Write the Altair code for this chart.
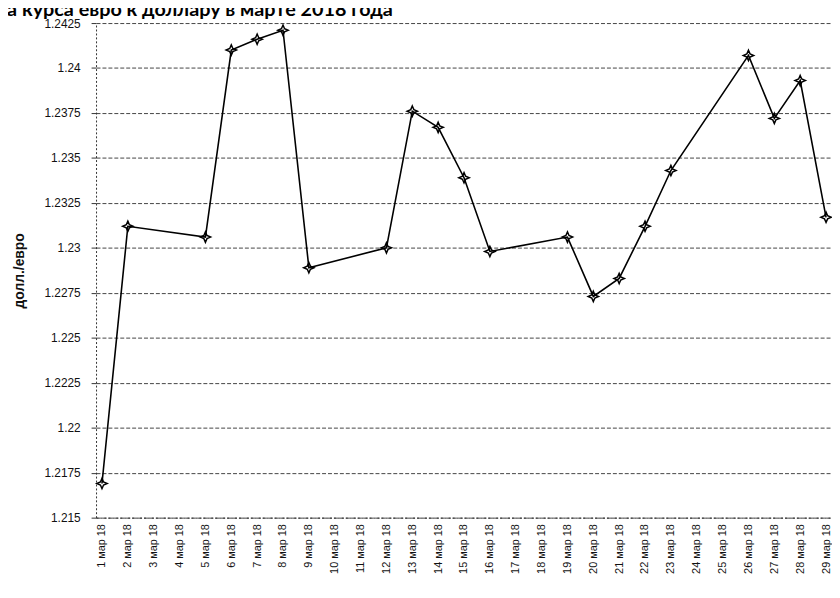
import altair as alt
import pandas as pd

# Category labels on the x axis (every calendar day shown)
day_labels = [
    "1 мар 18", "2 мар 18", "3 мар 18", "4 мар 18", "5 мар 18", "6 мар 18",
    "7 мар 18", "8 мар 18", "9 мар 18", "10 мар 18", "11 мар 18", "12 мар 18",
    "13 мар 18", "14 мар 18", "15 мар 18", "16 мар 18", "17 мар 18", "18 мар 18",
    "19 мар 18", "20 мар 18", "21 мар 18", "22 мар 18", "23 мар 18", "24 мар 18",
    "25 мар 18", "26 мар 18", "27 мар 18", "28 мар 18", "29 мар 18",
]

# Trading days with a quote
quote_days = [
    "1 мар 18", "2 мар 18", "5 мар 18", "6 мар 18", "7 мар 18", "8 мар 18",
    "9 мар 18", "12 мар 18", "13 мар 18", "14 мар 18", "15 мар 18", "16 мар 18",
    "19 мар 18", "20 мар 18", "21 мар 18", "22 мар 18", "23 мар 18",
    "26 мар 18", "27 мар 18", "28 мар 18", "29 мар 18",
]
rates = [
    1.2169, 1.2312, 1.2306, 1.2410, 1.2416, 1.2421,
    1.2289, 1.2300, 1.2376, 1.2367, 1.2339, 1.2298,
    1.2306, 1.2273, 1.2283, 1.2312, 1.2343,
    1.2407, 1.2372, 1.2393, 1.2317,
]

y_ticks = [1.215, 1.2175, 1.22, 1.2225, 1.225, 1.2275, 1.23, 1.2325,
           1.235, 1.2375, 1.24, 1.2425]

title_text = "Динамика курса евро к доллару в марте 2018 года"
y_title = "долл./евро"

df = pd.DataFrame({"day": quote_days, "rate": rates})
tdf = pd.DataFrame({"t": [title_text]})

x_enc = alt.X(
    "day:O",
    sort=day_labels,
    scale=alt.Scale(domain=day_labels, type="point", padding=0.23),
    axis=alt.Axis(
        title=None,
        labelAngle=-90,
        labelFont="Liberation Sans",
        labelFontSize=11,
        labelColor="#111",
        labelPadding=6,
        ticks=False,
        domain=True,
        domainColor="#333",
        domainDash=[2, 2],
        domainWidth=1,
        grid=False,
    ),
)
y_enc = alt.Y(
    "rate:Q",
    scale=alt.Scale(domain=[1.215, 1.2425], nice=False, zero=False),
    axis=alt.Axis(
        values=y_ticks,
        format=".4~f",
        title=y_title,
        titleFont="Liberation Sans",
        titleFontSize=14,
        titleFontWeight="bold",
        titleColor="#111",
        titleX=-70,
        titleY=250,
        labelFont="Liberation Sans",
        labelFontSize=12,
        labelColor="#111",
        labelPadding=11,
        tickSize=5,
        tickColor="#333",
        domainColor="#333",
        domainDash=[2, 2],
        grid=True,
        gridColor="#222",
        gridDash=[4, 2],
        gridWidth=1,
        gridOpacity=0.85,
    ),
)

base = alt.Chart(df)
line = base.mark_line(color="black", strokeWidth=1.6).encode(x=x_enc, y=y_enc)
pts = base.mark_point(
    shape="M0,-1L0.3,-0.3L1,0L0.3,0.3L0,1L-0.3,0.3L-1,0L-0.3,-0.3Z",
    filled=False,
    stroke="black",
    strokeWidth=1.5,
    size=110,
    opacity=1,
).encode(x=x_enc, y=y_enc)

title = alt.Chart(tdf).mark_text(
    align="right",
    baseline="alphabetic",
    font="Lato",
    fontSize=20,
    fontWeight="bold",
    color="black",
).encode(text="t:N", x=alt.value(300), y=alt.value(-7))

chart = (
    alt.layer(line, pts, title)
    .properties(
        width=744,
        height=500,
        autosize=alt.AutoSizeParams(type="none"),
        padding={"left": 89, "top": 12, "right": 0, "bottom": 78},
        background="white",
    )
    .configure_view(strokeWidth=0)
)

chart.save("out.html", embed_options={"renderer": "svg", "actions": False})
